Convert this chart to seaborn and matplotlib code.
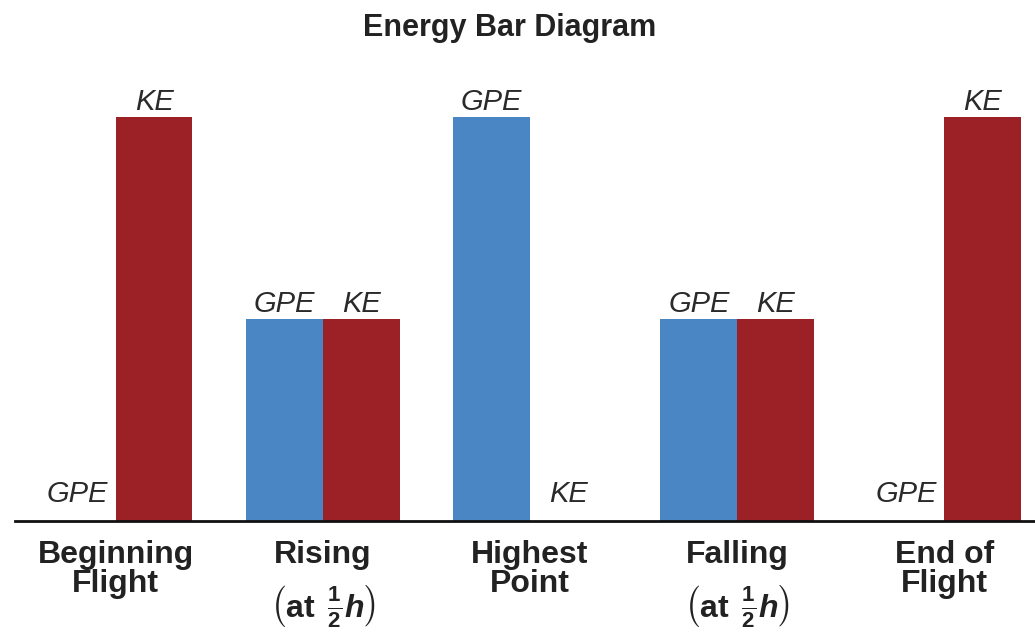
import pandas as pd
import seaborn as sns
import matplotlib.pyplot as plt
from matplotlib import transforms

# Datos del diagrama de barras de energía
stages = ["Beginning Flight", "Rising", "Highest Point", "Falling", "End of Flight"]
energy_types = ["GPE", "KE"]
gpe = [0, 50, 100, 50, 0]
ke = [100, 50, 0, 50, 100]
label_top = ["Beginning", "Rising", "Highest", "Falling", "End of"]
frac = r"$\left(\mathrm{at}\ \,\frac{1}{2}h\right)$"
label_bottom = ["Flight", frac, "Point", frac, "Flight"]

colors = {"GPE": "#4a86c4", "KE": "#9c2127"}

df = pd.DataFrame({
    "stage": stages * 2,
    "energy": ["GPE"] * len(stages) + ["KE"] * len(stages),
    "value": gpe + ke,
})

sns.set_style("white")
plt.rcParams['font.family'] = ['Liberation Sans', 'DejaVu Sans']
plt.rcParams['mathtext.fontset'] = 'custom'
plt.rcParams['mathtext.rm'] = 'Liberation Sans:bold'
plt.rcParams['mathtext.bf'] = 'Liberation Sans:bold'
plt.rcParams['mathtext.it'] = 'Liberation Sans:bold:italic'

W, H = 1035, 636
fig = plt.figure(figsize=(W / 100, H / 100), dpi=100)
ax = fig.add_axes([15 / W, 1 - 521 / H, 1 - 15 / W, (521 - 60) / H])

sns.barplot(data=df, x="stage", y="value", hue="energy", order=stages,
            hue_order=energy_types, palette=colors, width=0.74,
            saturation=1, linewidth=0, legend=False, ax=ax)

ax.set_xlim(-0.4867, 4.4384)
ax.set_ylim(0, 100 * (521 - 60) / 404)
ax.set_xticks([])
ax.set_yticks([])
ax.set_xlabel("")
ax.set_ylabel("")
for s in ["left", "top", "right"]:
    ax.spines[s].set_visible(False)
ax.spines["bottom"].set_linewidth(2)
ax.spines["bottom"].set_color("#111111")

# etiquetas GPE / KE sobre cada barra
for name, cont in zip(energy_types, ax.containers):
    for bar in cont:
        h = bar.get_height()
        off = 14 if h == 0 else 5
        ax.annotate(name, (bar.get_x() + bar.get_width() / 2, h),
                    xytext=(0, off), textcoords="offset points",
                    ha="center", va="baseline", fontsize=21,
                    fontstyle="italic", color="#2a2a2a")

# nombres de las etapas
tr = transforms.blended_transform_factory(ax.transData, fig.transFigure)
for i in range(len(stages)):
    fig.text(i, 1 - 563 / H, label_top[i], transform=tr, ha="center",
             va="baseline", fontsize=23, fontweight="bold", color="#222222")
    y2 = 617 if label_bottom[i].startswith("$") else 592
    fig.text(i, 1 - y2 / H, label_bottom[i], transform=tr, ha="center",
             va="baseline", fontsize=23, fontweight="bold", color="#222222")

fig.text(510 / W, 1 - 28 / H, "Energy Bar Diagram", ha="center", va="center",
         fontsize=22, fontweight="bold", color="#222222")

plt.savefig("out.png", dpi=100)
plt.close()
